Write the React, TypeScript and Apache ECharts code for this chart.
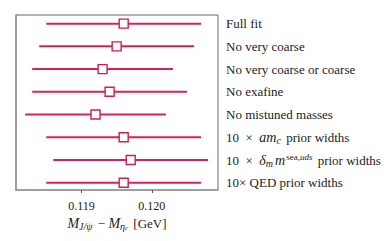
import React, { useEffect, useRef } from "react";
import * as echarts from "echarts";

const labels = [
  "Full fit",
  "No very coarse",
  "No very coarse or coarse",
  "No exafine",
  "No mistuned masses",
  "{n|10\u2002×\u2002}{i|am}{sub|c}{n| prior widths}",
  "{n|10\u2002×\u2002}{i|δ}{sub|m}{i|m}{sup|sea,}{supi|uds}{n| prior widths}",
  "10× QED prior widths",
];
const centers = [0.1196, 0.1195, 0.1193, 0.1194, 0.1192, 0.1196, 0.1197, 0.1196];
const lows = [0.1185, 0.1184, 0.1183, 0.1183, 0.1182, 0.1185, 0.1186, 0.1185];
const highs = [0.1207, 0.1206, 0.1203, 0.1205, 0.1202, 0.1207, 0.1208, 0.1207];
const xTicks = [0.119, 0.12];

const LINE = "#dc1f58";
const FONT = "Liberation Serif";

export default function App() {
  const ref = useRef<HTMLDivElement>(null);
  useEffect(() => {
    document.body.style.margin = "0";
    const chart = echarts.init(ref.current!, null, { renderer: "svg" });
    const idx = labels.map((_, i) => i);
    const richBase = {
      n: { fontFamily: FONT, fontSize: 13, color: "#222", lineHeight: 16 },
      t: { fontFamily: FONT, fontSize: 12, color: "#222" },
      i: { fontFamily: FONT, fontStyle: "italic", fontSize: 14, color: "#222", lineHeight: 16 },
      sub: { fontFamily: FONT, fontStyle: "italic", fontSize: 10, color: "#222", lineHeight: 9, verticalAlign: "bottom", padding: [0, 2, 0, 0] },
      subn: { fontFamily: FONT, fontStyle: "italic", fontSize: 10, color: "#222", lineHeight: 9, verticalAlign: "bottom" },
      sup: { fontFamily: FONT, fontSize: 9, color: "#222", lineHeight: 8, verticalAlign: "top", padding: [0, 0, 0, 1] },
      supi: { fontFamily: FONT, fontStyle: "italic", fontSize: 9, color: "#222", lineHeight: 8, verticalAlign: "top", padding: [0, 2, 0, 0] },
      subsub: { fontFamily: FONT, fontStyle: "italic", fontSize: 7, color: "#222", lineHeight: 6, verticalAlign: "bottom", padding: [0, 2, 0, 0] },
    };
    chart.setOption({
      animation: false,
      grid: {
        left: 16,
        top: 15,
        width: 202,
        height: 175,
        show: true,
        borderColor: "#666",
        borderWidth: 1,
      },
      xAxis: {
        type: "value",
        min: 0.11807,
        max: 0.12094,
        splitLine: { show: false },
        axisLine: { show: true, onZero: false, lineStyle: { color: "#999", width: 1.6 } },
        axisTick: { show: true, customValues: xTicks, length: 3, lineStyle: { color: "#555", width: 1 } },
        axisLabel: {
          customValues: xTicks,
          formatter: (v: number) => "{t|" + v.toFixed(3) + "}",
          fontFamily: FONT,
          fontSize: 12,
          color: "#222",
          margin: 10,
          rich: richBase,
        },
        name: "{i|M}{sub|J/ψ}{n| − }{i|M}{subn|η}{subsub|c}{n| [GeV]}",
        nameLocation: "middle",
        nameGap: 21,
        nameTextStyle: {
          fontFamily: FONT,
          fontSize: 13,
          color: "#222",
          rich: richBase,
        },
      },
      yAxis: [
        {
          type: "value",
          inverse: true,
          min: -0.38,
          max: 7.32,
          position: "right",
          splitLine: { show: false },
          axisLine: { show: false, onZero: false },
          axisTick: { show: false },
          axisLabel: {
            customValues: idx,
            formatter: (v: number) => {
              const s = labels[Math.round(v)] ?? "";
              return s.indexOf("{") >= 0 ? s : "{n|" + s + "}";
            },
            fontFamily: FONT,
            fontSize: 13,
            color: "#222",
            margin: 8,
            align: "left",
            rich: richBase,
          },
        },
        {
          type: "value",
          inverse: true,
          min: -0.38,
          max: 7.32,
          position: "left",
          splitLine: { show: false },
          axisLine: { show: true, onZero: false, lineStyle: { color: "#999", width: 1.6 } },
          axisTick: { show: false },
          axisLabel: { show: false },
        },
      ],
      series: [
        {
          type: "custom",
          yAxisIndex: 0,
          data: idx.map((i) => [lows[i], highs[i], i]),
          renderItem: (params: any, api: any) => {
            const a = api.coord([api.value(0), api.value(2)]);
            const b = api.coord([api.value(1), api.value(2)]);
            return {
              type: "line",
              shape: { x1: a[0], y1: a[1], x2: b[0], y2: b[1] },
              style: { stroke: LINE, lineWidth: 2 },
            };
          },
          encode: { x: [0, 1], y: 2 },
          z: 2,
        },
        {
          type: "scatter",
          yAxisIndex: 0,
          data: idx.map((i) => [centers[i], i]),
          symbol: "rect",
          symbolSize: 9,
          itemStyle: { color: "#fff", borderColor: "#d01c52", borderWidth: 1.4, opacity: 1 },
          z: 3,
        },
      ],
    });
    return () => chart.dispose();
  }, []);
  return <div ref={ref} style={{ width: 390, height: 241 }} />;
}
